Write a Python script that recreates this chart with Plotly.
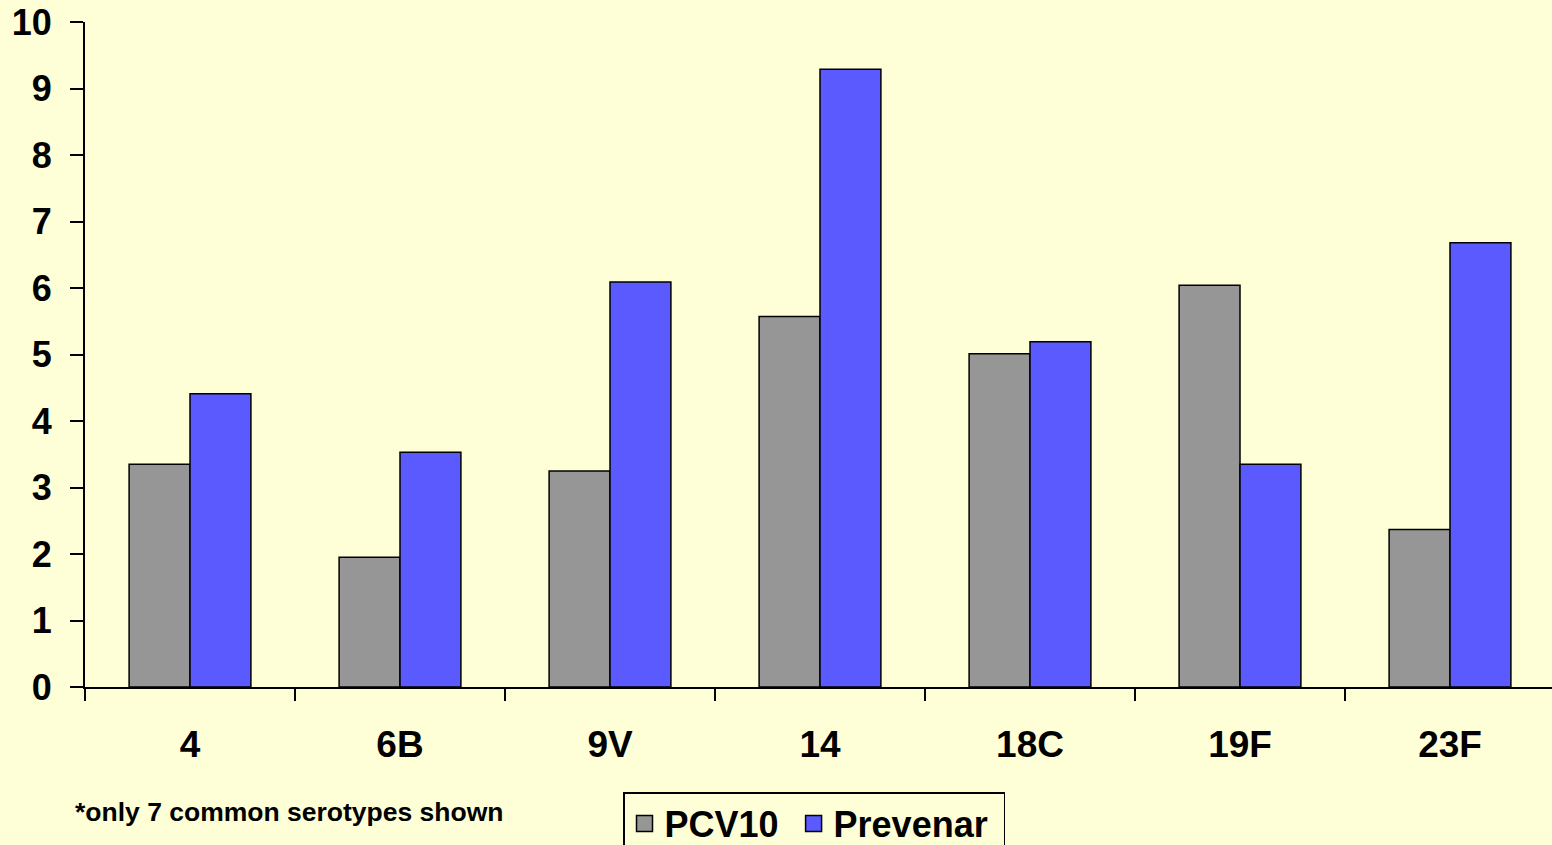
import plotly.graph_objects as go

categories = ["4", "6B", "9V", "14", "18C", "19F", "23F"]
pcv10 = [3.35, 1.95, 3.25, 5.57, 5.01, 6.04, 2.37]
prevenar = [4.41, 3.53, 6.09, 9.29, 5.19, 3.35, 6.68]
y_ticks = list(range(0, 11))
series_names = ["PCV10", "Prevenar"]

BG = "#FFFFD7"
GREY = "#969696"
BLUE = "#5A5AFF"
FONT = "Liberation Sans, Arial, sans-serif"

W, H = 1552, 845
L, T, B, R = 85, 22, 158, 0
pw = W - L - R
ph = H - T - B

fig = go.Figure()
fig.add_trace(go.Bar(x=categories, y=pcv10, name=series_names[0], marker=dict(color=GREY, line=dict(color="black", width=1.5)), showlegend=False))
fig.add_trace(go.Bar(x=categories, y=prevenar, name=series_names[1], marker=dict(color=BLUE, line=dict(color="black", width=1.5)), showlegend=False))

# legend proxies
fig.add_trace(go.Scatter(x=[None], y=[None], mode="markers", name=series_names[0] + "\u00a0",
                         marker=dict(symbol="square", size=16, color=GREY, line=dict(color="black", width=1.5))))
fig.add_trace(go.Scatter(x=[None], y=[None], mode="markers", name=series_names[1] + "\u00a0",
                         marker=dict(symbol="square", size=16, color=BLUE, line=dict(color="black", width=1.5))))

fig.update_layout(
    width=W, height=H,
    margin=dict(l=L, r=R, t=T, b=B, autoexpand=False),
    paper_bgcolor=BG, plot_bgcolor=BG,
    barmode="group", bargap=0.42, bargroupgap=0,
    font=dict(family=FONT, color="black"),
    showlegend=True,
    legend=dict(orientation="h", x=(623 - L) / pw, y=(H - B - 792) / ph, xanchor="left", yanchor="top",
                bgcolor=BG, bordercolor="black", borderwidth=1.5,
                font=dict(size=36, family=FONT, weight="bold", color="black"),
                itemsizing="trace", tracegroupgap=0),
    xaxis=dict(type="category", range=[-0.5, 6.5 - 3 / 210], showgrid=False, zeroline=False,
               showline=True, linecolor="black", linewidth=2,
               ticks="outside", tickson="boundaries", ticklen=12, tickwidth=1.5, tickcolor="black",
               tickfont=dict(size=37, family=FONT, weight="bold", color="black"),
               ticklabelstandoff=24),
    yaxis=dict(range=[0, 10], tickvals=y_ticks, showgrid=False, zeroline=False,
               showline=True, linecolor="black", linewidth=2,
               ticks="outside", ticklen=13, tickwidth=1.5, tickcolor="black",
               tickfont=dict(size=36, family=FONT, weight="bold", color="black"),
               ticklabelstandoff=11),
    annotations=[dict(text="*only 7 common serotypes shown", xref="paper", yref="paper",
                      x=(73 - L) / pw, y=(H - B - 812) / ph, xanchor="left", yanchor="middle",
                      showarrow=False, font=dict(size=26.5, family=FONT, weight="bold", color="black"))],
)

fig.write_html("out.html", config={"displayModeBar": False},
               post_script="document.body.style.margin='0';document.body.style.background='" + BG + "';")
